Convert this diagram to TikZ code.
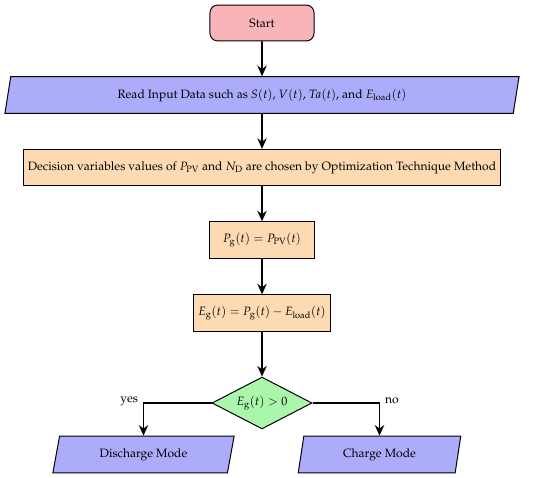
\documentclass[tikz,border=0pt]{standalone}
\usepackage{amsmath}
\usepackage[T1]{fontenc}
\usepackage{mathpazo}
\usepackage{tikz}
\usetikzlibrary{arrows.meta,positioning,shapes.geometric,calc}
\definecolor{startpink}{RGB}{249,180,186}
\definecolor{inputblue}{RGB}{172,172,250}
\definecolor{procorange}{RGB}{253,218,178}
\definecolor{decgreen}{RGB}{170,246,170}
\tikzset{
  terminal/.style={draw, rectangle, rounded corners=2.5mm, fill=startpink, line width=0.9pt, minimum width=3.33cm, minimum height=1.15cm},
  iobox/.style={draw, trapezium, trapezium left angle=74, trapezium right angle=106, trapezium stretches body, fill=inputblue, line width=0.9pt, minimum height=1.17cm},
  procbox/.style={draw, rectangle, fill=procorange, line width=0.9pt, minimum height=1.16cm, inner xsep=1.5mm},
  decision/.style={draw, diamond, aspect=2, fill=decgreen, line width=0.9pt, minimum width=3.2cm, minimum height=1.66cm, inner sep=0.5mm},
  arr/.style={-{Stealth[length=3.4mm, width=3mm]}, line width=1.5pt},
  lbl/.style={inner sep=1.5mm}
}

\begin{document}
\begin{tikzpicture}[x=0.032cm, y=-0.032cm, font=\fontsize{11}{13}\selectfont]
\useasboundingbox (0,0) rectangle (550,478);
\node[terminal] (start) at (262,23) {Start};
\node[iobox, minimum width=16.45cm] (readin) at (262,95) {Read Input Data such as $S(t)$, $V(t)$, $Ta(t)$, and $E_{\mathrm{load}}(t)$};
\node[procbox, minimum width=15.26cm] (choose) at (262,167.5) {Decision variables values of $P_{\mathrm{PV}}$ and $N_{\mathrm{D}}$ are chosen by Optimization Technique Method};
\node[procbox, minimum width=3.33cm] (pg) at (262,240) {$P_{\mathrm{g}}(t) = P_{\mathrm{PV}}(t)$};
\node[procbox, minimum width=4.35cm] (eg) at (262,313) {$E_{\mathrm{g}}(t) = P_{\mathrm{g}}(t) - E_{\mathrm{load}}(t)$};
\node[decision] (check) at (262,403) {$E_{\mathrm{g}}(t) > 0$};
\node[iobox, minimum width=5.8cm, trapezium left angle=71, trapezium right angle=109] (discharge) at (143.5,454.5) {Discharge Mode};
\node[iobox, minimum width=5.2cm] (charge) at (379.5,454.5) {Charge Mode};

\draw[arr] (start) -- (readin);
\draw[arr] (readin) -- (choose);
\draw[arr] (choose) -- (pg);
\draw[arr] (pg) -- (eg);
\draw[arr] (eg) -- (check);
\draw[arr] (check.west) -| (discharge.north) node[lbl, pos=0.5, left, yshift=2pt] {yes};
\draw[arr] (check.east) -| (charge.north) node[lbl, pos=0.5, right, yshift=2pt] {no};
\end{tikzpicture}
\end{document}
